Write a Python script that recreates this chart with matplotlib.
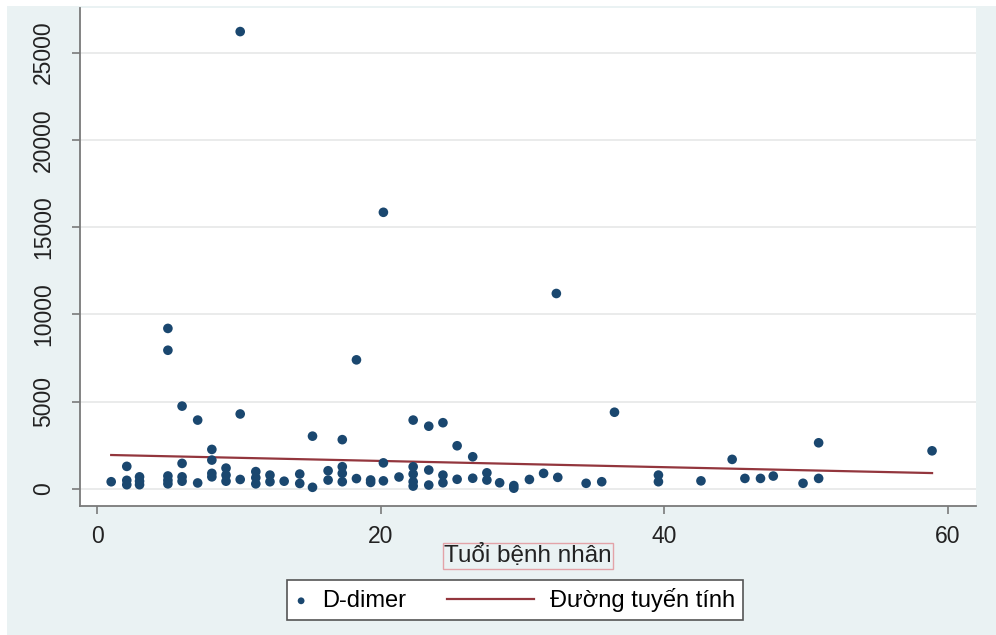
import matplotlib
matplotlib.use("Agg")
import matplotlib.pyplot as plt
from matplotlib.patches import Rectangle
from matplotlib.legend_handler import HandlerLine2D, HandlerPathCollection

# tuổi bệnh nhân và D-dimer
age = [1.0,
       2.1, 2.1, 2.1,
       3.0, 3.0, 3.0,
       5.0, 5.0, 5.0, 5.0, 5.0,
       6.0, 6.0, 6.0, 6.0,
       7.1, 7.1,
       8.1, 8.1, 8.1, 8.1,
       9.1, 9.1, 9.1,
       10.1, 10.1, 10.1,
       11.2, 11.2, 11.2,
       12.2, 12.2,
       13.2,
       14.3, 14.3,
       15.2, 15.2,
       16.3, 16.3,
       17.3, 17.3, 17.3, 17.3,
       18.3, 18.3,
       19.3, 19.3,
       20.2, 20.2, 20.2,
       21.3,
       22.3, 22.3, 22.3, 22.3, 22.3,
       23.4, 23.4, 23.4,
       24.4, 24.4, 24.4,
       25.4, 25.4,
       26.5, 26.5,
       27.5, 27.5,
       28.4,
       29.4, 29.4,
       30.5, 31.5, 32.4, 32.5, 34.5, 35.6, 36.5,
       39.6, 39.6,
       42.6, 44.8, 45.7, 46.8, 47.7, 49.8,
       50.9, 50.9,
       58.9]
ddimer = [420,
          1300, 500, 250,
          700, 450, 250,
          9200, 7950, 750, 500, 300,
          4750, 1470, 700, 450,
          3950, 350,
          2270, 1660, 900, 700,
          1200, 800, 450,
          26200, 4300, 550,
          1000, 650, 300,
          800, 420,
          450,
          860, 320,
          3030, 100,
          1050, 515,
          2830, 1280, 900, 420,
          7400, 600,
          520, 380,
          15850, 1500, 470,
          690,
          3950, 1280, 860, 420, 170,
          3600, 1090, 230,
          3800, 800, 360,
          2480, 560,
          1850, 620,
          930, 515,
          360,
          200, 50,
          550, 900, 11200, 670, 330, 420, 4400,
          800, 420,
          470, 1700, 610, 610, 745, 330,
          2650, 610,
          2190]

# đường tuyến tính (hai đầu mút)
fit_age = [1.0, 58.9]
fit_val = [1950, 916]

x_ticks = [0, 20, 40, 60]
y_ticks = [0, 5000, 10000, 15000, 20000, 25000]

plt.rcParams['font.family'] = ['Liberation Sans', 'DejaVu Sans']
bg = '#eaf2f3'

fig = plt.figure(figsize=(9.96, 6.35), dpi=100, facecolor='white')
fig.patches.append(Rectangle((7/996, 0), 1, 629/635, transform=fig.transFigure,
                             facecolor=bg, edgecolor='none', zorder=-10))

ax = fig.add_axes([80/996, 129/635, 896/996, 498/635])
ax.set_facecolor('white')

sc = ax.scatter(age, ddimer, s=48, color='#1a476f', edgecolors='none', zorder=3, label='D-dimer')
ln, = ax.plot(fit_age, fit_val, color='#93363d', linewidth=1.6, zorder=2, label='Đường tuyến tính')

ax.set_xlim(-1.2, 62)
ax.set_ylim(-970, 27550)
ax.set_xticks(x_ticks)
ax.set_yticks(y_ticks)
ax.set_yticklabels([str(v) for v in y_ticks], rotation=90, va='center')
ax.grid(axis='y', color='#e6e8e8', linewidth=1.2)
ax.set_axisbelow(True)

for side in ['top', 'right']:
    ax.spines[side].set_visible(False)
for side in ['left', 'bottom']:
    ax.spines[side].set_color('#7a7a7a')
    ax.spines[side].set_linewidth(1.3)
ax.tick_params(axis='both', colors='#7a7a7a', labelcolor='#222222', labelsize=16.5, length=6, width=1.2)
ax.tick_params(axis='y', pad=12)
ax.tick_params(axis='x', pad=8)

ax.set_xlabel('Tuổi bệnh nhân', fontsize=17.5, color='#222222', labelpad=-3,
              bbox=dict(facecolor='none', edgecolor='#e3a3a8', linewidth=1, pad=1))

leg = fig.legend(handles=[sc, ln], loc='center', bbox_to_anchor=(515/996, 1 - 600/635),
                 ncol=2, fontsize=17, frameon=True, fancybox=False,
                 edgecolor='#555555', facecolor='white', framealpha=1,
                 handlelength=0.5, handletextpad=0.66, columnspacing=4.9,
                 borderpad=0.35, scatterpoints=1,
                 handler_map={sc: HandlerPathCollection(xpad=0),
                              ln: HandlerLine2D(xpad=-3.2)})
leg.get_frame().set_linewidth(1.2)
leg.legend_handles[0].set_sizes([24])

plt.savefig('out.png', dpi=100, facecolor=fig.get_facecolor())
